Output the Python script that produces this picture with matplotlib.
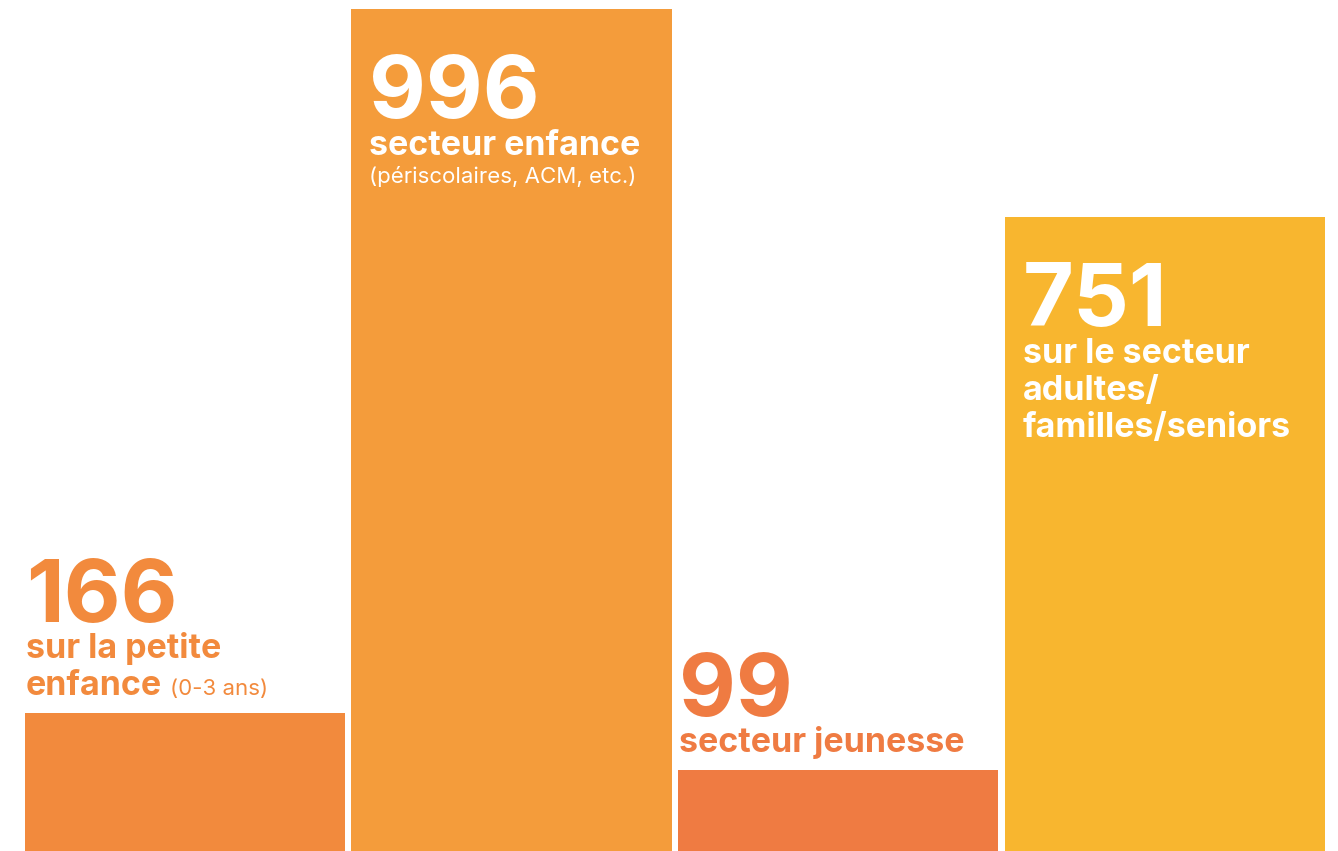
import matplotlib.pyplot as plt

# données
valeurs = [166, 996, 99, 751]
chiffres = ["166", "996", "99", "751"]
libelles = [["sur la petite", "enfance"],
            ["secteur enfance"],
            ["secteur jeunesse"],
            ["sur le secteur", "adultes/", "familles/seniors"]]
precisions = ["(0-3 ans)", "(périscolaires, ACM, etc.)", "", ""]
couleurs = ["#F28A3D", "#F49C3B", "#EF7B42", "#F8B62F"]
dedans = [False, True, False, True]  # texte dans la barre (blanc) ou au-dessus

FONT = "Inter"
PX = 0.72  # px -> points a 100 dpi

fig = plt.figure(figsize=(13.38, 8.51), dpi=100)
ax = fig.add_axes([0, 0, 1, 1])
largeur = 0.98
pos = list(range(len(valeurs)))
ax.bar(pos, valeurs, width=largeur, color=couleurs)
ax.set_xlim(-0.566, 3.53)
ax.set_ylim(3.5, 1006.6)
ax.axis("off")

fig.canvas.draw()
renderer = fig.canvas.get_renderer()

for i, v in enumerate(valeurs):
    x0 = pos[i] - largeur / 2
    if dedans[i]:
        coul = "white"
        dx = 18
        y_num = -109
        y_lignes = [-146 - 37 * k for k in range(len(libelles[i]))]
    else:
        coul = couleurs[i]
        dx = 1
        n = len(libelles[i])
        y_lignes = [18 + 37 * (n - 1 - k) for k in range(n)]
        y_num = y_lignes[0] + 36
    ax.annotate(chiffres[i], xy=(x0, v), xytext=(dx * PX, y_num * PX),
                textcoords="offset points", ha="left", va="baseline",
                fontsize=63, fontweight="bold", color=coul, family=FONT)
    last = None
    for k, lig in enumerate(libelles[i]):
        last = ax.annotate(lig, xy=(x0, v), xytext=(dx * PX, y_lignes[k] * PX),
                           textcoords="offset points", ha="left", va="baseline",
                           fontsize=24.5, fontweight="bold", color=coul, family=FONT)
    if precisions[i]:
        if dedans[i]:
            ax.annotate(precisions[i], xy=(x0, v),
                        xytext=(dx * PX, (y_lignes[-1] - 28) * PX),
                        textcoords="offset points", ha="left", va="baseline",
                        fontsize=16, color=coul, family=FONT)
        else:
            fig.canvas.draw()
            bb = last.get_window_extent(renderer)
            xd, _ = ax.transData.inverted().transform((bb.x1 + 8, 0))
            ax.annotate(precisions[i], xy=(xd, v), xytext=(0, y_lignes[-1] * PX),
                        textcoords="offset points", ha="left", va="baseline",
                        fontsize=16, color=coul, family=FONT)

fig.savefig("out.png", dpi=100)
